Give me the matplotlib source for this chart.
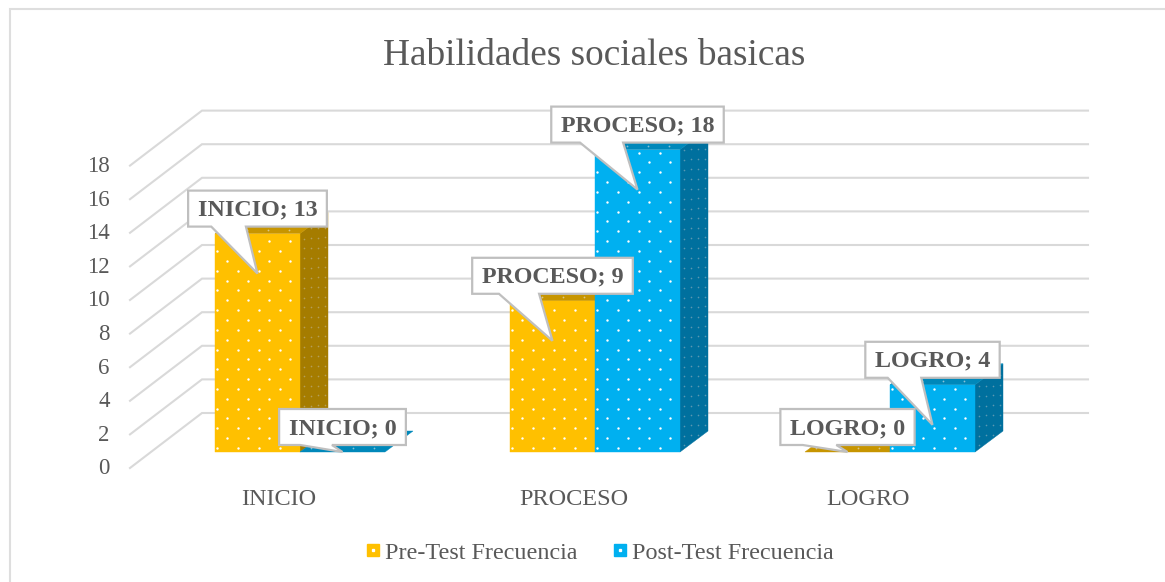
import numpy as np
import matplotlib
matplotlib.use("Agg")
import matplotlib.pyplot as plt
from matplotlib.patches import Polygon
from matplotlib.lines import Line2D
from matplotlib.legend_handler import HandlerTuple
from matplotlib.transforms import ScaledTranslation

categories = ["INICIO", "PROCESO", "LOGRO"]
pre_test = [13, 9, 0]
post_test = [0, 18, 4]
series_names = ["Pre-Test Frecuencia", "Post-Test Frecuencia"]
y_ticks = [0, 2, 4, 6, 8, 10, 12, 14, 16, 18]
title = "Habilidades sociales basicas"

W, H = 1165, 582
plt.rcParams["font.family"] = ["Liberation Serif", "DejaVu Serif"]
TXT = "#595959"
GRID = "#D9D9D9"
fig = plt.figure(figsize=(W / 100, H / 100), dpi=100)

# plot box in pixels (origin top-left)
L, R, Y0, PXV = 130.0, 1088.0, 468.0, 16.8
PXC = 295.0
CAT0 = 278.5
ax = fig.add_axes([L / W, 1 - Y0 / H, (R - L) / W, 18 * PXV / H])
ax.set_xlim((L - CAT0) / PXC, (R - CAT0) / PXC)
ax.set_ylim(0, 18)
ax.patch.set_alpha(0)
for s in ax.spines.values():
    s.set_visible(False)

WALL_DX, WALL_DY = 72.0, 55.0      # floor depth
BAR_DX0, BAR_DY0 = 21.5, 16.0      # bar front plane behind axis plane
BAR_DX, BAR_DY = 28.0, 21.0        # bar depth
BAR_W = 85.0 / PXC


def P(x, v, dx=0.0, dy=0.0):
    """data point shifted by dx px right, dy px up"""
    return (x + dx / PXC, v + dy / PXV)


def B(x, v, dx=0.0, dy=0.0):
    """same, on the front plane of the bars"""
    return P(x, v, dx + BAR_DX0, dy + BAR_DY0)


# chart frame (top and left edges only are inside the picture)
fig.add_artist(Line2D([9.5 / W, 9.5 / W, 1.0], [0.0, 1 - 9.0 / H, 1 - 9.0 / H],
                      transform=fig.transFigure, color="#DEDEDE", lw=1.5,
                      solid_joinstyle="miter"))

# gridlines: floor diagonal + back wall
x_left, x_right = ax.get_xlim()
for v in y_ticks:
    a = P(x_left, v)
    b = P(x_left, v, WALL_DX, WALL_DY)
    c = P(x_right, v, 0, WALL_DY)
    ax.plot([a[0], b[0], c[0]], [a[1], b[1], c[1]], color=GRID, lw=1.5,
            solid_joinstyle="miter", clip_on=False, zorder=1)


def face(poly, color, z, dots_xy=None, dot_color="white", dot_size=3.0, alpha=1.0):
    ax.add_patch(Polygon(poly, closed=True, fc=color, ec=color, lw=0.3, clip_on=False, zorder=z))
    if dots_xy:
        xs, ys = zip(*dots_xy)
        ax.scatter(xs, ys, s=dot_size, marker="o", c=dot_color, linewidths=0, alpha=alpha,
                   clip_on=False, zorder=z + 0.1)


def draw_bar(x0, v, front, top, side, z):
    x1 = x0 + BAR_W
    h = v * PXV
    wpx = BAR_W * PXC
    if h > 0:
        side_poly = [B(x1, 0), B(x1, 0, BAR_DX, BAR_DY), B(x1, v, BAR_DX, BAR_DY), B(x1, v)]
        pts = []
        for i, sx in enumerate(np.arange(3.5, BAR_DX, 7.0)):
            for sy in np.arange(4.0 + (i % 2) * 5, h, 9.85):
                pts.append(B(x1, 0, sx, sy + sx * BAR_DY / BAR_DX))
        face(side_poly, side, z, pts, dot_color="#C9C9C9", dot_size=1.4, alpha=0.45)
    top_poly = [B(x0, v), B(x1, v), B(x1, v, BAR_DX, BAR_DY), B(x0, v, BAR_DX, BAR_DY)]
    pts = []
    for j, ty in enumerate(np.arange(4.0, BAR_DY, 9.0)):
        for tx in np.arange(6.0 + (j % 2) * 10.5, wpx, 21.0):
            pts.append(B(x0, v, tx + ty * BAR_DX / BAR_DY, ty))
    face(top_poly, top, z + 0.2, pts, dot_color="#E8E8E8", dot_size=1.6, alpha=0.6)
    if h > 0:
        front_poly = [B(x0, 0), B(x1, 0), B(x1, v), B(x0, v)]
        pts = []
        for row, ty in enumerate(np.arange(4.0, h, 9.85)):
            for tx in np.arange(1.5 if row % 2 == 0 else 12.0, wpx, 21.0):
                pts.append(B(x0, 0, tx, ty))
        face(front_poly, front, z + 0.4, pts)


styles = [("#FFC000", "#C79500", "#A57C00"), ("#00B0F0", "#0088BA", "#00709E")]
values = [pre_test, post_test]
for s, vals in enumerate(values):
    for i, v in enumerate(vals):
        draw_bar(i - BAR_W + s * BAR_W, v, *styles[s], z=3 + s + i * 0.01)

# axis ticks
ax.set_yticks(y_ticks)
ax.set_xticks(range(len(categories)))
ax.set_xticklabels(categories)
ax.tick_params(axis="y", length=0, pad=14.5, labelsize=16.5, labelcolor=TXT)
ax.tick_params(axis="x", length=0, pad=15, labelsize=17.5, labelcolor=TXT)
lift = ScaledTranslation(0, 1.5 / 100, fig.dpi_scale_trans)
for lbl in ax.get_yticklabels():
    lbl.set_transform(lbl.get_transform() + lift)

# title
fig.text(594.5 / W, 1 - 52 / H, title, ha="center", va="center_baseline", fontsize=26.8, color=TXT)

# data labels with callouts
fig.canvas.draw()
renderer = fig.canvas.get_renderer()
BOX_H = 36.0
BOX_GAP = 7.0
TIP_DROP = 40.0
for s, vals in enumerate(values):
    for i, v in enumerate(vals):
        cx, cv = B(i - BAR_W + s * BAR_W + BAR_W / 2, v)
        t = ax.text(cx, cv, f"{categories[i]}; {v}", ha="center", va="center_baseline", fontsize=17.3,
                    fontweight="bold", color=TXT, zorder=21, clip_on=False)
        bw = t.get_window_extent(renderer).width + 19.0
        yb = cv + BOX_GAP / PXV
        yt = yb + BOX_H / PXV
        xl = cx - bw / 2 / PXC
        xr = cx + bw / 2 / PXC
        tip_v = max(cv - TIP_DROP / PXV, BAR_DY0 / PXV)
        poly = [(xl, yb), (xl + bw / 6 / PXC, yb), (cx, tip_v), (xl + bw * 5 / 12 / PXC, yb),
                (xr, yb), (xr, yt), (xl, yt)]
        ax.add_patch(Polygon(poly, closed=True, fc="white", ec="#BFBFBF", lw=1.6,
                             joinstyle="miter", clip_on=False, zorder=20))
        t.set_position((cx, (yb + yt) / 2 + 1.0 / PXV))

# legend
handles = []
for c in ("#FFC000", "#00B0F0"):
    sq = Line2D([], [], marker="s", ls="", mfc=c, mec=c, ms=8.0)
    d = Line2D([], [], marker="s", ls="", mfc="white", mec="white", ms=1.4)
    handles.append((sq, d))
leg = fig.legend(handles, series_names, handler_map={tuple: HandlerTuple(ndivide=1, pad=0)},
                 loc="center", bbox_to_anchor=(599 / W, 1 - 553 / H), ncol=2, frameon=False,
                 fontsize=17.4, labelcolor=TXT, handlelength=0.7, handletextpad=0.15,
                 columnspacing=1.38, borderpad=0, borderaxespad=0)

fig.savefig("out.png", dpi=100, facecolor="white")
